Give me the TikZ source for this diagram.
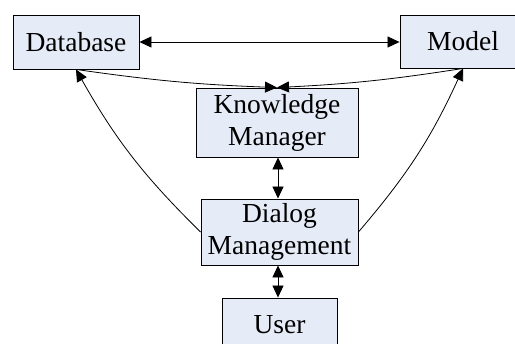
\documentclass[tikz,border=0pt]{standalone}
\usepackage{fontspec}
\setmainfont{Liberation Serif}
\usetikzlibrary{arrows.meta,calc}
\definecolor{boxfill}{RGB}{230,236,247}
\tikzset{
  box/.style={draw=black, fill=boxfill, line width=0.9pt, inner sep=0pt, align=center,
    font=\fontsize{27.5}{32}\selectfont},
  conn/.style={line width=0.8pt, draw=black},
  tip/.style={-{Triangle[length=12pt,width=11pt]}},
  tips/.style={{Triangle[length=12pt,width=11pt]}-{Triangle[length=12pt,width=11pt]}}
}
\begin{document}
\begin{tikzpicture}[x=1pt,y=-1pt]
\useasboundingbox (0,0) rectangle (515,344);
\clip (0,0) rectangle (515,344);
\node[box, minimum width=126pt, minimum height=54pt] (db) at (76,42) {Database};
\node[box, minimum width=126pt, minimum height=53pt] (mo) at (463,41.5) {Model};
\node[box, minimum width=162pt, minimum height=69pt] (km) at (277,122.5) {Knowledge\\Manager};
\node[box, minimum width=157pt, minimum height=66pt] (dm) at (279.5,232) {Dialog\\Management};
\node[box, minimum width=115pt, minimum height=54pt] (us) at (279.5,325) {User};
\draw[conn, tips] (db.east) -- (mo.west |- db.east);
\draw[conn, tip] (db.south) to[bend right=3] (km.north);
\draw[conn, tip] (mo.south) to[bend left=3] (km.north);
\draw[conn, tip] (dm.west) to[bend left=8] (db.south);
\draw[conn, tip] (dm.east) to[bend right=8] (mo.south);
\draw[conn, tips] (km.south -| 278,0) -- (dm.north -| 278,0);
\draw[conn, tips] (dm.south -| 278,0) -- (us.north -| 278,0);
\end{tikzpicture}
\end{document}
